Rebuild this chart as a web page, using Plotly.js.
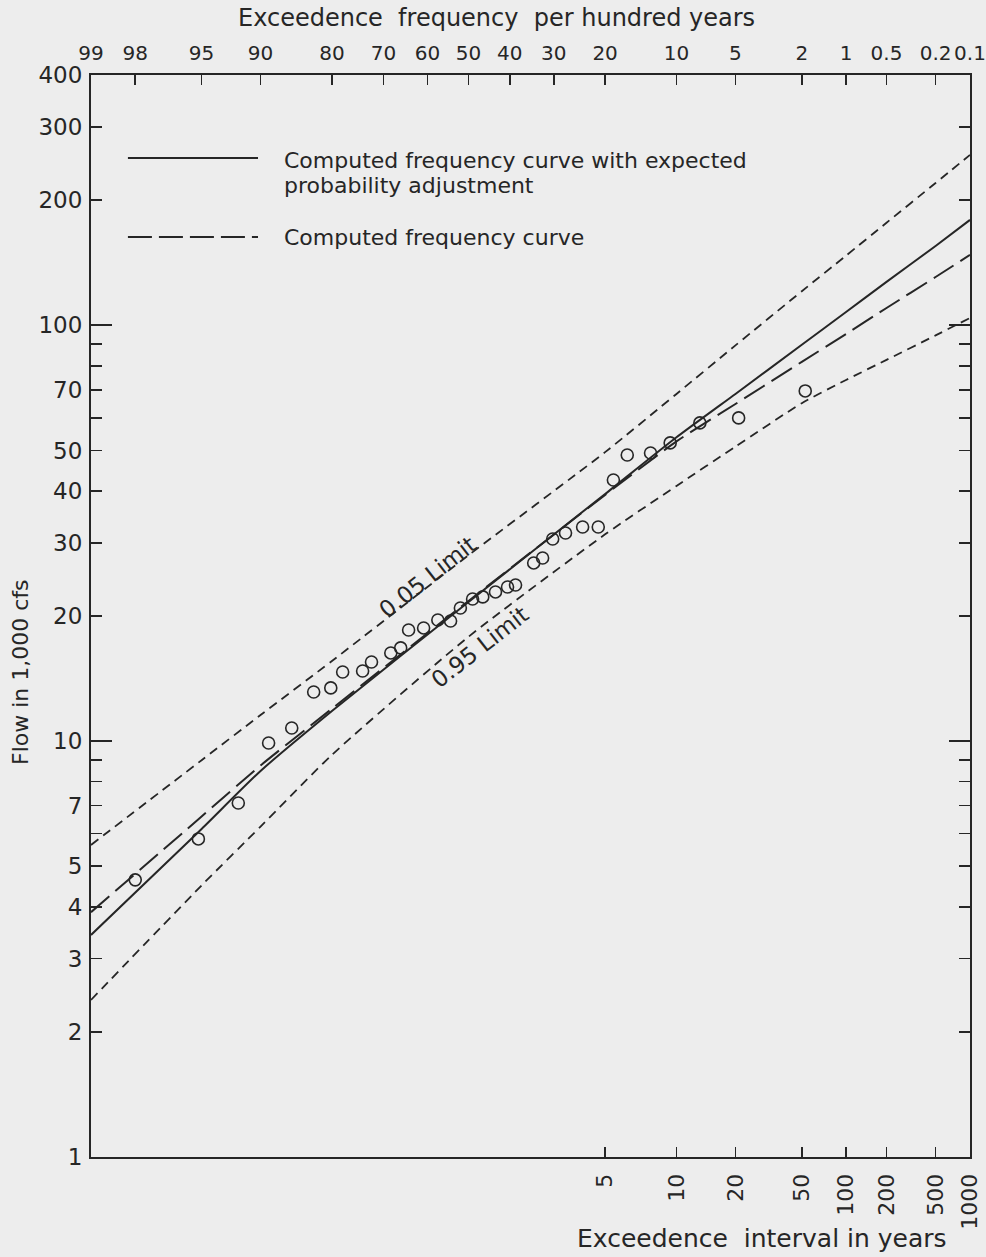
<!DOCTYPE html>
<html><head><meta charset="utf-8">
<script src="https://cdn.plot.ly/plotly-3.0.1.min.js"></script>
<style>html,body{margin:0;padding:0;background:#ededed;}#chart{width:986px;height:1257px;}</style>
</head><body><div id="chart"></div>
<script>
// Observed annual peaks: exceedence frequency (per hundred years) and flow (1,000 cfs)
const obsExceedPct = [98.0,95.2,92.2,89.1,86.2,83.0,80.2,78.1,74.3,72.5,68.4,66.2,64.4,60.9,57.5,54.4,52.0,49.0,46.5,43.4,40.5,38.6,34.4,32.4,30.2,27.5,24.1,21.2,18.6,16.4,13.1,10.7,7.7,4.8,1.9];
const obsFlow = [4.64,5.82,7.10,9.90,10.76,13.13,13.43,14.67,14.75,15.50,16.30,16.76,18.51,18.72,19.56,19.45,20.91,21.98,22.23,22.85,23.49,23.75,26.83,27.58,30.64,31.67,32.74,32.74,42.48,48.79,49.33,52.15,58.26,59.9,69.55];

// Curves read at these exceedence frequencies
const curvePct = [99,95,90,80,50,20,10,5,2,1,0.5,0.2,0.1];
const expectedProbFlow = [3.42,6.15,8.48,11.82,21.62,39.3,53.8,68.4,89.8,107.7,127.2,155.2,179.3];
const computedFlow = [3.88,6.59,8.74,11.97,21.74,39.1,52.6,64.7,81.7,95.3,110.1,130.7,147.7];
const limit05Flow = [5.63,9.00,11.56,15.59,28.0,49.55,68.4,89.5,120.8,147.1,176.5,220,257];
const limit95Flow = [2.386,4.50,6.23,9.27,17.83,31.44,41.1,51.1,65.0,73.9,82.6,94.6,104.2];

// Axis ticks
const topTickPct = [99,98,95,90,80,70,60,50,40,30,20,10,5,2,1,0.5,0.2,0.1];
const topTickText = ['99','98','95','90','80','70','60','50','40','30','20','10','5','2','1','0.5','0.2','0.1'];
const intervalYears = [5,10,20,50,100,200,500,1000];
const intervalText = ['5','10','20','50','100','200','500','1000'];
const yTickVals = [1,2,3,4,5,6,7,8,9,10,20,30,40,50,60,70,80,90,100,200,300,400];
const yTickText = ['1','2','3','4','5','','7','','','10','20','30','40','50','','70','','','100','200','300','400'];
const yLongTicks = [10,100];

// inverse standard normal CDF (probability-paper scale)
function normInv(p){
  const a=[-3.969683028665376e+01,2.209460984245205e+02,-2.759285104469687e+02,1.383577518672690e+02,-3.066479806614716e+01,2.506628277459239e+00];
  const b=[-5.447609879822406e+01,1.615858368580409e+02,-1.556989798598866e+02,6.680131188771972e+01,-1.328068155288572e+01];
  const c=[-7.784894002430293e-03,-3.223964580411365e-01,-2.400758277161838e+00,-2.549732539343734e+00,4.374664141464968e+00,2.938163982698783e+00];
  const d=[7.784695709041462e-03,3.224671290700398e-01,2.445134137142996e+00,3.754408661907416e+00];
  const pl=0.02425, ph=1-pl; let q,r;
  if(p<pl){q=Math.sqrt(-2*Math.log(p));return (((((c[0]*q+c[1])*q+c[2])*q+c[3])*q+c[4])*q+c[5])/((((d[0]*q+d[1])*q+d[2])*q+d[3])*q+1);}
  if(p>ph){q=Math.sqrt(-2*Math.log(1-p));return -(((((c[0]*q+c[1])*q+c[2])*q+c[3])*q+c[4])*q+c[5])/((((d[0]*q+d[1])*q+d[2])*q+d[3])*q+1);}
  q=p-0.5;r=q*q;return (((((a[0]*r+a[1])*r+a[2])*r+a[3])*r+a[4])*r+a[5])*q/(((((b[0]*r+b[1])*r+b[2])*r+b[3])*r+b[4])*r+1);
}
const zx = pct => normInv(1 - pct/100);
const xRange = [zx(99), zx(0.1)];
const yRange = [0, Math.log10(400)];

const ink = '#262626';
const FONT = 'DejaVu Sans, Verdana, sans-serif';
const curveX = curvePct.map(zx);

const traces = [
  {x: curveX, y: limit05Flow, mode:'lines', line:{color:ink, width:1.8, dash:'9px,6px', shape:'spline', smoothing:0.6}, name:'0.05 Limit', showlegend:false},
  {x: curveX, y: limit95Flow, mode:'lines', line:{color:ink, width:1.8, dash:'9px,6px', shape:'spline', smoothing:0.6}, name:'0.95 Limit', showlegend:false},
  {x: curveX, y: computedFlow, mode:'lines', line:{color:ink, width:2, dash:'24px,8px', shape:'spline', smoothing:0.6}, name:'Computed frequency curve', showlegend:false},
  {x: curveX, y: expectedProbFlow, mode:'lines', line:{color:ink, width:2, shape:'spline', smoothing:0.6}, name:'Computed frequency curve with expected probability adjustment', showlegend:false},
  {x: obsExceedPct.map(zx), y: obsFlow, mode:'markers', marker:{symbol:'circle-open', size:12, color:ink, line:{width:1.6, color:ink}}, name:'Observed', showlegend:false},
  {x: [xRange[0]], y: [1], xaxis:'x2', yaxis:'y2', mode:'markers', marker:{opacity:0}, hoverinfo:'skip', showlegend:false}
];

const axisCommon = {showgrid:false, zeroline:false, showline:true, linecolor:ink, linewidth:2, ticks:'inside', tickcolor:ink, tickwidth:1.8, ticklabeloverflow:'allow'};

const layout = {
  width:986, height:1257,
  margin:{l:91, r:16, t:75, b:100, pad:0},
  paper_bgcolor:'#ededed', plot_bgcolor:'#ededed',
  font:{family:FONT, color:ink, size:20},
  showlegend:false,
  xaxis: Object.assign({}, axisCommon, {
    range:xRange, tickmode:'array', tickvals:intervalYears.map(T=>zx(100/T)), ticktext:intervalText,
    tickangle:-90, ticklen:10, tickfont:{size:22, family:FONT}, ticklabelstandoff:6
  }),
  xaxis2: Object.assign({}, axisCommon, {
    overlaying:'x', side:'top', anchor:'y', range:xRange, tickmode:'array', tickangle:0,
    tickvals:topTickPct.map(zx), ticktext:topTickText, ticklen:10, tickfont:{size:20, family:FONT}, ticklabelstandoff:5
  }),
  yaxis: Object.assign({}, axisCommon, {
    type:'log', range:yRange, tickmode:'array', tickvals:yTickVals, ticktext:yTickText, tickangle:0,
    ticklen:11, mirror:'ticks', tickfont:{size:23, family:FONT}, ticklabelstandoff:2
  }),
  yaxis2: {
    overlaying:'y', type:'log', range:yRange, tickmode:'array', tickvals:yLongTicks, showticklabels:false,
    ticks:'inside', ticklen:21, tickwidth:1.8, tickcolor:ink, mirror:'ticks', showline:false, showgrid:false, zeroline:false
  },
  shapes: [
    {type:'line', xref:'paper', yref:'paper', x0:0.042, x1:0.19, y0:0.9233, y1:0.9233, line:{color:ink, width:2.2}},
    {type:'line', xref:'paper', yref:'paper', x0:0.042, x1:0.19, y0:0.8503, y1:0.8503, line:{color:ink, width:2.2, dash:'24px,7px'}}
  ],
  annotations: [
    {text:'Exceedence\u00a0 frequency\u00a0 per hundred years', xref:'paper', yref:'paper', x:0.4608, y:1.0527, xanchor:'center', yanchor:'middle', showarrow:false, font:{size:24}},
    {text:'Exceedence\u00a0 interval in years', xref:'paper', yref:'paper', x:0.7634, y:-0.0749, xanchor:'center', yanchor:'middle', showarrow:false, font:{size:25}},
    {text:'Flow in 1,000 cfs', xref:'paper', yref:'paper', x:-0.0808, y:0.4482, xanchor:'center', yanchor:'middle', textangle:-90, showarrow:false, font:{size:22}},
    {text:'Computed frequency curve with expected', xref:'paper', yref:'paper', x:0.2173, y:0.9214, xanchor:'left', yanchor:'middle', showarrow:false, font:{size:22}},
    {text:'probability adjustment', xref:'paper', yref:'paper', x:0.2173, y:0.8983, xanchor:'left', yanchor:'middle', showarrow:false, font:{size:22}},
    {text:'Computed frequency curve', xref:'paper', yref:'paper', x:0.2173, y:0.8494, xanchor:'left', yanchor:'middle', showarrow:false, font:{size:22}},
    {text:'0.05 Limit', xref:'x', yref:'y', x:zx(59.9), y:Math.log10(24.8), textangle:-38, showarrow:false, font:{size:23}},
    {text:'0.95 Limit', xref:'x', yref:'y', x:zx(47.2), y:Math.log10(16.85), textangle:-38, showarrow:false, font:{size:23}}
  ]
};

Plotly.newPlot('chart', traces, layout, {displayModeBar:false, staticPlot:true});
</script>
</body></html>
